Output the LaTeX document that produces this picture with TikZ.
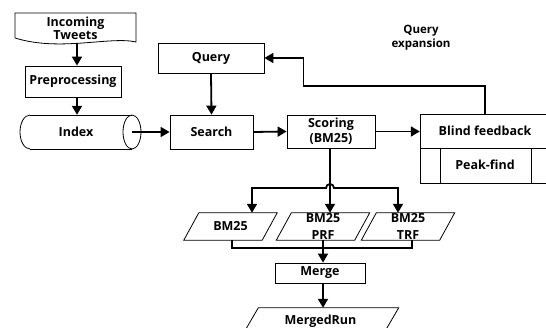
\documentclass[tikz,border=0pt]{standalone}
\usepackage{fontspec}
\setmainfont{Open Sans}
\usetikzlibrary{arrows.meta}
\tikzset{
  box/.style={draw, line width=0.8pt},
  lbl/.style={font=\bfseries\fontsize{12.5}{15}\selectfont, align=center, inner sep=0pt},
  arr/.style={line width=1.8pt, -{Triangle[width=10pt,length=9pt]}},
  ln/.style={line width=1.8pt, line join=miter},
}
\begin{document}
\begin{tikzpicture}[x=1pt,y=1pt]
\useasboundingbox (0,0) rectangle (546,-328);
\clip (0,0) rectangle (546,-328);
% Incoming tweets (document shape)
\node[lbl, minimum width=121, minimum height=30, font=\bfseries\fontsize{12.5}{13}\selectfont] (tweets) at (75.5,-28) {Incoming\\Tweets};
\draw[box] (15,-38) -- (15,-13) -- (136,-13) -- (136,-42) .. controls (110,-36) and (60,-52) .. (15,-38);
% Preprocessing
\node[box, lbl, minimum width=96, minimum height=31] (prep) at (73,-81.5) {Preprocessing};
% Index cylinder
\node[lbl, minimum width=122, minimum height=34] (index) at (81,-132) {Index\hspace{10pt}};
\draw[box] (30,-115) -- (132,-115) (30,-149) -- (132,-149);
\draw[box] (30,-115) arc[start angle=90, end angle=270, x radius=10, y radius=17];
\draw[box] (132,-132) ellipse[x radius=9, y radius=17];
\coordinate (idxr) at (132,-132);
% Query, Search, Scoring
\node[box, lbl, minimum width=106, minimum height=30] (query) at (211,-58) {Query};
\node[box, lbl, minimum width=83, minimum height=34] (search) at (211.5,-132) {Search};
\node[box, lbl, minimum width=88, minimum height=33] (scoring) at (331,-131.5) {Scoring\\(BM25)};
\node[lbl, font=\bfseries\fontsize{11.5}{14}\selectfont] (qe) at (421,-38) {Query\\expansion};
% Blind feedback
\node[minimum width=140, minimum height=69, inner sep=0pt] (blind) at (490,-148.5) {};
\node[lbl] (bf) at (485,-131) {Blind feedback};
\node[lbl] (peak) at (485,-165) {Peak-find};
\draw[box] (560,-114) -- (420,-114) -- (420,-183) -- (560,-183);
\draw[box] (420,-148) -- (560,-148);
\draw[box] (440,-148) -- (440,-183) (531,-148) -- (531,-183);
% Parallelograms
\newcommand{\para}[2]{\draw[box] ([xshift=#2]#1.north west) -- ([xshift=#2]#1.north east) -- ([xshift=-#2]#1.south east) -- ([xshift=-#2]#1.south west) -- cycle;}
\node[lbl, minimum width=78, minimum height=27] (p1) at (230.5,-226.5) {BM25};
\node[lbl, minimum width=78, minimum height=27, font=\bfseries\fontsize{12.5}{17}\selectfont] (p2) at (323,-226.5) {BM25\\PRF};
\node[lbl, minimum width=78, minimum height=27, font=\bfseries\fontsize{12.5}{17}\selectfont] (p3) at (408,-226.5) {BM25\\TRF};
\para{p1}{7.5}\para{p2}{7.5}\para{p3}{7.5}
\node[box, lbl, minimum width=90, minimum height=20] (merge) at (320,-273) {Merge};
\node[lbl, minimum width=140, minimum height=27] (mr) at (320.5,-321.5) {MergedRun};
\para{mr}{8}
% Connectors
\draw[arr] ([xshift=1.5pt]tweets.south) -- ([xshift=1.5pt]tweets.south |- prep.north);
\draw[arr] ([xshift=4pt]prep.south) -- ([xshift=4pt]prep.south |- index.north);
\draw[arr] (idxr) -- (search.west);
\draw[arr] (query.south) -- (search.north);
\draw[arr] (search.east) -- (scoring.west);
\draw[arr] (scoring.east) -- (scoring.east -| blind.west);
\coordinate (fb) at ([xshift=-5pt]blind.north);
\draw[arr] (fb) -- ++(0,28) -| ([xshift=39pt]query.east) -- (query.east);
\draw[arr] ([xshift=-1pt]scoring.south) -- ([xshift=-1pt]scoring.south |- p2.north);
\coordinate (hl) at (252,-188);
\coordinate (hr) at (398,-188);
\draw[line width=1.8pt, line join=miter, {Triangle[width=10pt,length=9pt]}-{Triangle[width=10pt,length=9pt]}]
  (hl |- p1.north) -- (hl) -- (326,-188) arc[start angle=180, end angle=0, radius=4] -- (hr) -- (hr |- p3.north);
\coordinate (bl) at (232,-248);
\coordinate (br) at (412,-248);
\draw[ln] ([xshift=1.5pt]p1.south) -- (bl) -- (br) -- ([xshift=4pt]p3.south);
\draw[arr] (p2.south) -- (p2.south |- merge.north);
\draw[arr] ([xshift=3pt]merge.south) -- ([xshift=3pt]merge.south |- mr.north);
\end{tikzpicture}
\end{document}
